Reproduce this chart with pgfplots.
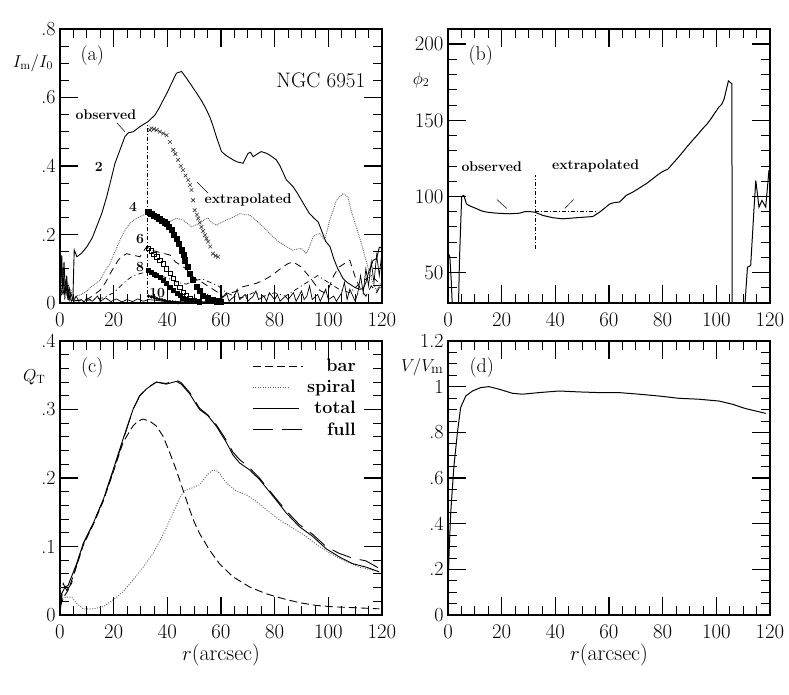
\documentclass[border=0pt]{standalone}
\usepackage{pgfplots}
\pgfplotsset{compat=1.18}
\newcommand{\tfont}{\fontsize{20}{24}\selectfont}
\newcommand{\lfont}{\fontsize{17}{20}\selectfont}
\newcommand{\afont}{\fontsize{14}{16}\selectfont\bfseries}
\pgfplotsset{
  leglen/.style={legend image code/.code={\draw[##1] (0pt,0pt) -- (#1,0pt);}},
  panel/.style={
    scale only axis, width=322pt, height=274pt,
    xmin=0, xmax=120, xtick={0,20,...,120}, minor x tick num=3,
    tick align=inside, major tick length=18pt, minor tick length=9pt,
    axis line style={line width=1.5pt},
    major tick style={line width=1.5pt, black},
    minor tick style={line width=0.8pt, black},
    tick label style={font=\tfont},
    xticklabel style={yshift=-7pt},
    yticklabel style={xshift=-1pt},
    clip=true,
  },
}
\begin{document}
\begin{tikzpicture}[x=1pt,y=1pt]
%---------------- (a)
\begin{axis}[panel, at={(60pt,392pt)}, anchor=south west,
  ymin=0, ymax=0.8, ytick={0,0.2,0.4,0.6,0.8}, yticklabels={0,.2,.4,.6,.8}, minor y tick num=3,
  ylabel={$I_{\rm m}/I_0$},
  every axis y label/.style={at={(axis description cs:-0.084,0.876)},anchor=center,font=\lfont}]
% m=2 observed
\addplot[black, line width=0.9pt] coordinates {(0,0.15)(0.5,0.13)(1,0.05)(1.5,0.12)(2,0.03)(2.5,0.08)(3,0.01)(3.5,0.04)(4.2,0.005)(4.8,0.01)(5.3,0.155)(6.3,0.135)(8,0.145)(10,0.164)(12,0.19)(13.6,0.222)(15.5,0.26)(17.4,0.31)(19,0.36)(20.5,0.408)(22.5,0.45)(24.2,0.486)(25.5,0.497)(27.3,0.5)(29.8,0.515)(32.9,0.53)(35.4,0.549)(37,0.57)(38.5,0.593)(40,0.615)(41.6,0.642)(43.4,0.671)(45.3,0.676)(47.1,0.657)(49,0.635)(50.9,0.613)(52.8,0.59)(54.6,0.564)(56,0.54)(57.1,0.515)(58.5,0.48)(60.2,0.442)(62,0.43)(64.5,0.418)(66,0.412)(68.2,0.408)(70.1,0.437)(71,0.44)(72,0.427)(73.5,0.435)(75,0.442)(77,0.437)(78.5,0.43)(80.6,0.418)(82,0.4)(84.4,0.359)(86.8,0.34)(88.5,0.32)(90,0.3)(91.5,0.28)(93,0.261)(95,0.245)(96.2,0.237)(97.4,0.213)(99,0.18)(100.6,0.165)(102,0.13)(103.5,0.1)(104.4,0.088)(105.5,0.071)(107,0.06)(108,0.055)(110,0.045)(111.7,0.04)(113,0.042)(114,0.06)(115,0.09)(116,0.11)(116.7,0.125)(118,0.13)(119,0.163)(120,0.16)};
% m=4 observed
\addplot[black!60, line width=0.9pt, densely dotted] coordinates {(0,0.06)(0.5,0.02)(1,0.1)(1.5,0.03)(2,0.07)(3,0.02)(4,0.04)(5,0.01)(6,0.02)(8,0.025)(10,0.035)(12,0.05)(14.9,0.066)(16.5,0.09)(18.6,0.115)(20.5,0.15)(22.3,0.183)(24,0.21)(26,0.232)(28,0.245)(29.8,0.252)(32.3,0.261)(34,0.252)(36,0.242)(38,0.238)(39.7,0.232)(41.5,0.24)(43.4,0.247)(45.9,0.242)(47.5,0.232)(49,0.222)(50.5,0.228)(52.1,0.232)(54,0.245)(55.2,0.247)(56.5,0.235)(58.3,0.227)(60,0.235)(62,0.242)(64.5,0.25)(67,0.261)(69,0.258)(70.7,0.257)(72.5,0.245)(74.4,0.232)(77,0.212)(79.4,0.193)(82,0.176)(84.4,0.164)(86.8,0.154)(88.5,0.158)(90,0.159)(91.8,0.144)(93,0.165)(94.3,0.193)(95.5,0.2)(96.8,0.203)(98.6,0.183)(99.5,0.21)(100.5,0.242)(101.8,0.27)(103,0.3)(104.2,0.31)(105.5,0.32)(107.3,0.31)(108.5,0.27)(110.4,0.222)(111.7,0.19)(113,0.154)(114.2,0.12)(115.4,0.086)(116.5,0.06)(118,0.037)(119,0.05)(120,0.04)};
% m=6 observed
\addplot[black, line width=0.8pt, dash pattern=on 7pt off 5pt] coordinates {(0,0.05)(1,0.02)(2,0.06)(3,0.01)(5,0.005)(8,0.01)(10,0.01)(12,0.02)(14.9,0.037)(17,0.06)(19,0.09)(21.7,0.125)(23,0.135)(24.8,0.144)(27,0.14)(29.8,0.135)(31,0.15)(32.3,0.164)(34,0.155)(36,0.15)(38.5,0.145)(41,0.14)(43,0.12)(45,0.11)(47,0.1)(49,0.08)(51,0.068)(53,0.06)(55,0.05)(57,0.04)(59,0.03)(60.8,0.018)(62,0.025)(64,0.03)(66,0.035)(68,0.047)(70.5,0.052)(73,0.057)(75.5,0.065)(78,0.076)(80.5,0.09)(83,0.105)(85,0.115)(86.8,0.12)(88.5,0.112)(90,0.105)(91.5,0.09)(93,0.076)(95,0.055)(96.8,0.037)(98.5,0.03)(100,0.04)(102,0.08)(104,0.105)(106,0.115)(108,0.125)(109,0.1)(110,0.076)(112,0.04)(114,0.02)(116,0.05)(118,0.03)(120,0.06)};
% m=8 observed
\addplot[black, line width=0.7pt, dash pattern=on 5pt off 3pt on 1pt off 3pt] coordinates {(0,0.02)(2,0.04)(4,0.01)(8,0.005)(12,0.01)(16,0.015)(20,0.03)(22,0.045)(24.8,0.066)(27,0.078)(29.8,0.086)(32.3,0.09)(35,0.085)(38,0.078)(41,0.07)(44,0.06)(47,0.055)(50,0.065)(53,0.07)(56,0.06)(59,0.05)(62,0.03)(65,0.02)(68,0.015)(72,0.03)(76,0.02)(80,0.03)(84,0.02)(88,0.04)(92,0.06)(96,0.08)(100,0.06)(104,0.04)(108,0.03)(112,0.06)(116,0.08)(120,0.05)};
% m=10 observed
\addplot[black, line width=0.7pt] coordinates {(0,0.1)(0.3,0.02)(0.7,0.14)(1,0.03)(1.4,0.08)(1.8,0.01)(2.2,0.06)(2.6,0.02)(3,0.05)(3.5,0.01)(4,0.03)(5,0.005)(6,0.02)(7,0.005)(8,0.01)(9,0.003)(10,0.015)(12,0.005)(14,0.02)(15,0.005)(17,0.015)(19,0.004)(21,0.012)(23,0.003)(25,0.01)(27,0.004)(29,0.012)(31,0.005)(33,0.01)(40,0.004)(50,0.003)(58,0.005)(60,0.01)(62,0.03)(63,0.005)(65,0.02)(66,0.04)(67,0.01)(69,0.025)(70,0.005)(72,0.02)(73,0.035)(74,0.01)(76,0.02)(77,0.005)(78,0.03)(80,0.01)(81,0.025)(82,0.005)(84,0.02)(85,0.01)(87,0.03)(88,0.005)(90,0.035)(91,0.01)(92,0.02)(93,0.05)(94,0.01)(96,0.025)(97,0.005)(99,0.04)(100,0.01)(102,0.02)(103,0.005)(105,0.03)(106,0.06)(107,0.01)(108,0.04)(110,0.005)(111,0.03)(112,0.08)(113,0.03)(114,0.1)(115,0.05)(116,0.12)(117,0.06)(118,0.14)(119,0.08)(120,0.15)};
% extrapolated
\addplot[only marks, mark=x, mark size=2.6pt, black!80, line width=0.6pt] coordinates {(33.5,0.505)(34.1,0.51)(35,0.508)(36,0.505)(37.2,0.5)(38.5,0.495)(39.7,0.49)(41,0.47)(42.2,0.447)(43,0.435)(44,0.418)(45,0.4)(45.9,0.388)(46.8,0.372)(47.8,0.359)(48.5,0.345)(49,0.33)(49.6,0.3)(50.2,0.271)(51,0.258)(51.5,0.247)(52.1,0.235)(52.7,0.222)(53.3,0.21)(54,0.198)(54.6,0.188)(55.2,0.179)(56,0.165)(57,0.144)(58,0.138)(58.9,0.135)};
\addplot[only marks, mark=square*, mark size=2.6pt, black] coordinates {(32.9,0.266)(34,0.26)(35,0.256)(36,0.252)(37,0.246)(38,0.24)(39,0.236)(39.7,0.232)(40.6,0.222)(41.6,0.213)(42.5,0.2)(43.4,0.188)(44.3,0.172)(45.3,0.154)(46,0.14)(46.5,0.125)(47.5,0.105)(48.4,0.086)(49.5,0.068)(50.9,0.047)(52,0.035)(53.3,0.022)(55,0.014)(57,0.008)(58.5,0.005)(60,0.003)};
\addplot[only marks, mark=square, mark size=2.2pt, black, line width=0.6pt] coordinates {(33,0.16)(34,0.152)(35,0.143)(36,0.135)(37.2,0.125)(38.5,0.115)(39.7,0.1)(41,0.086)(42.2,0.072)(43.4,0.057)(44.6,0.045)(45.9,0.032)(47,0.022)(48.4,0.013)(50,0.007)(52,0.003)};
\addplot[only marks, mark=square*, mark size=2pt, black] coordinates {(33,0.096)(34,0.09)(35,0.085)(36,0.08)(37.2,0.076)(38.4,0.066)(39.5,0.058)(41,0.047)(42.3,0.037)(43.5,0.028)(44.7,0.022)(46,0.015)(47.2,0.01)(48.4,0.008)(50,0.004)(52,0.002)};
\addplot[only marks, mark=*, mark size=1.5pt, black] coordinates {(33,0.02)(34,0.018)(35,0.016)(36,0.013)(37,0.011)(38,0.009)(39,0.007)(40,0.005)(41,0.004)(42,0.003)(43,0.002)(44,0.001)};
\addplot[black, line width=0.8pt, dash pattern=on 4pt off 2pt on 1pt off 2pt] coordinates {(32.5,0)(32.5,0.52)};
\node[font=\tfont] at (rel axis cs:0.1,0.905) {(a)};
\node[font=\fontsize{21}{24}\selectfont] at (rel axis cs:0.81,0.814) {NGC 6951};
\node[font=\afont] at (axis cs:17.1,0.549) {observed};
\draw[black, line width=0.5pt] (axis cs:21.2,0.526) -- (axis cs:24.2,0.5);
\node[font=\afont] at (axis cs:70.1,0.301) {extrapolated};
\draw[black, line width=0.5pt] (axis cs:51.1,0.353) -- (axis cs:55.2,0.321);
\node[font=\afont] at (axis cs:14.5,0.397) {2};
\node[font=\afont] at (axis cs:27.2,0.28) {4};
\node[font=\afont] at (axis cs:29.8,0.187) {6};
\node[font=\afont] at (axis cs:29.8,0.105) {8};
\node[font=\afont] at (axis cs:36.2,0.029) {10};
\end{axis}
%---------------- (b)
\begin{axis}[panel, at={(448pt,392pt)}, anchor=south west,
  ymin=30, ymax=210, ytick={50,100,150,200}, minor ytick={30,40,...,210},
  ylabel={$\phi_2$},
  every axis y label/.style={at={(axis description cs:-0.084,0.814)},anchor=center,font=\lfont}]
\addplot[black, line width=1pt] coordinates {(0.3,62)(0.7,60)(1.2,45)(1.8,20)};
\addplot[black, line width=1pt] coordinates {(3.8,20)(4.3,60)(5.1,100)(5.9,100.7)(6.9,95)(8.5,93.5)(10.6,92)(12.5,90.5)(14.4,89.7)(18,89)(23,88.6)(26.7,89)(28.6,90)(30.5,90)(32.3,89.7)(35.4,87.5)(39.1,86)(42.8,85.3)(47.8,86)(54,86.8)(56.5,89.7)(58.5,92.5)(60.2,95)(62,96)(63.9,96.3)(66.4,100.7)(69,103)(71.3,105.5)(74,108.5)(76.3,111.6)(78,114)(80,116.4)(82,118)(83.7,121.5)(85.5,125)(87.4,129)(89,132.5)(91.1,136.8)(93,140.5)(94.9,144.5)(96.5,147.5)(98,151)(99.5,155)(101,158.8)(102,160.5)(102.9,164)(103.7,170)(104.5,175.9)(105.8,174)(105.9,20)};
\addplot[black, line width=1pt] coordinates {(110.3,20)(111.6,53.5)(112.8,54.6)(114,90.8)(114.7,110.5)(115.9,93)(117,97.4)(118.4,93)(119.6,117)(120,117)};
\addplot[black, line width=0.7pt, dash pattern=on 4pt off 2pt on 1pt off 2pt] coordinates {(32.5,65.6)(32.5,113.8)};
\addplot[black, line width=0.7pt, dash pattern=on 4pt off 2pt on 1pt off 2pt] coordinates {(32.5,90)(55,90)};
\node[font=\tfont] at (rel axis cs:0.102,0.905) {(b)};
\node[font=\afont] at (axis cs:16.3,119.7) {observed};
\node[font=\afont] at (axis cs:55,119.7) {extrapolated};
\draw[black, line width=0.5pt] (axis cs:18.2,98) -- (axis cs:21.9,92.1);
\draw[black, line width=0.5pt] (axis cs:46.8,98) -- (axis cs:43.5,92.1);
\end{axis}
%---------------- (c)
\begin{axis}[panel, at={(60pt,80pt)}, anchor=south west,
  ymin=0, ymax=0.4, ytick={0,0.1,0.2,0.3,0.4}, yticklabels={0,.1,.2,.3,.4}, minor y tick num=4,
  xlabel={$r$(arcsec)},
  every axis x label/.style={at={(axis description cs:0.5,-0.146)},anchor=center,font=\fontsize{22}{26}\selectfont},
  ylabel={$Q_{\rm T}$},
  every axis y label/.style={at={(axis description cs:-0.08,0.868)},anchor=center,font=\lfont},
  legend style={draw=none, fill=none, at={(rel axis cs:0.935,0.948)}, anchor=north east,
    font=\fontsize{18}{20}\selectfont\bfseries, row sep=3pt},
  legend cell align=right]
\addplot[black, line width=0.9pt, dash pattern=on 8pt off 4pt, leglen=50pt] coordinates {(0,0.012)(1,0.022)(2,0.03)(3,0.036)(4.3,0.05)(6.2,0.072)(8.7,0.102)(12.4,0.132)(16.1,0.166)(19.8,0.208)(23.5,0.252)(27.2,0.276)(29,0.283)(31,0.286)(33.4,0.283)(35.9,0.276)(38.4,0.261)(40.9,0.237)(43.3,0.212)(45.8,0.183)(48.3,0.154)(50,0.136)(52,0.119)(55.7,0.095)(59.4,0.075)(64.4,0.056)(70.6,0.041)(76.8,0.031)(83,0.024)(89.2,0.018)(95.4,0.014)(101.6,0.012)(107.8,0.011)(119,0.009)};
\addlegendentry{bar}
\addplot[black!60, line width=0.9pt, dash pattern=on 1pt off 1.5pt, leglen=36pt] coordinates {(0,0.045)(0.6,0.024)(2.5,0.026)(4.3,0.026)(6.2,0.017)(8.7,0.009)(12.4,0.009)(16.1,0.012)(19.8,0.022)(23.5,0.034)(27.2,0.051)(31,0.07)(34.7,0.09)(38.4,0.117)(42.1,0.149)(44.6,0.171)(46.4,0.181)(49.5,0.186)(52,0.19)(54.5,0.203)(57,0.212)(58.8,0.21)(62,0.193)(65.6,0.181)(69.3,0.176)(73,0.166)(76.8,0.154)(81.7,0.139)(86.7,0.127)(91.6,0.115)(96.6,0.1)(101.6,0.088)(106.5,0.078)(111.5,0.07)(119,0.063)};
\addlegendentry{spiral}
\addplot[black, line width=0.9pt, leglen=46pt] coordinates {(0,0.007)(0.6,0.031)(1.9,0.041)(3,0.043)(4.3,0.056)(6.2,0.075)(8.7,0.105)(12.4,0.134)(16.1,0.168)(19.8,0.212)(23.5,0.257)(27.2,0.3)(29.7,0.32)(32.2,0.33)(35.9,0.34)(39.6,0.337)(43.3,0.341)(45.2,0.337)(48.3,0.323)(52,0.3)(55.1,0.291)(58.2,0.276)(62,0.252)(64.4,0.234)(66.9,0.222)(70.6,0.212)(74.3,0.198)(76.8,0.186)(80.5,0.168)(84.3,0.149)(89.2,0.129)(94.1,0.115)(99.1,0.097)(104,0.085)(109,0.075)(114,0.07)(119,0.063)};
\addlegendentry{total}
\addplot[black, line width=0.9pt, dash pattern=on 20pt off 9pt, leglen=52pt] coordinates {(0,0.002)(1.2,0.046)(2.5,0.036)(4.3,0.046)(6.2,0.073)(8.7,0.104)(12.4,0.134)(16.1,0.168)(19.8,0.21)(23.5,0.255)(27.2,0.3)(29.7,0.32)(32.2,0.331)(35.9,0.34)(39.6,0.338)(43.3,0.343)(45.2,0.339)(48.3,0.325)(52,0.302)(55.1,0.292)(58.2,0.278)(62,0.255)(64.4,0.238)(66.9,0.227)(70.6,0.215)(74.3,0.2)(76.8,0.188)(80.5,0.17)(84.3,0.152)(89.2,0.132)(94.1,0.118)(99.1,0.1)(104,0.09)(109,0.083)(114,0.079)(119,0.068)};
\addlegendentry{full}
\node[font=\tfont] at (rel axis cs:0.1,0.905) {(c)};
\end{axis}
%---------------- (d)
\begin{axis}[panel, at={(448pt,80pt)}, anchor=south west,
  ymin=0, ymax=1.2, ytick={0,0.2,0.4,0.6,0.8,1,1.2}, yticklabels={0,.2,.4,.6,.8,1,1.2}, minor y tick num=3,
  xlabel={$r$(arcsec)},
  every axis x label/.style={at={(axis description cs:0.5,-0.146)},anchor=center,font=\fontsize{22}{26}\selectfont},
  ylabel={$V/V_{\rm m}$},
  every axis y label/.style={at={(axis description cs:-0.08,0.905)},anchor=center,font=\fontsize{19}{22}\selectfont}]
\addplot[black, line width=1pt] coordinates {(0,0.123)(0.4,0.27)(1,0.446)(2.2,0.651)(3.5,0.798)(4.7,0.908)(6.6,0.959)(9.1,0.981)(12.2,0.996)(15.3,1.0)(19,0.989)(24,0.971)(27.7,0.967)(33.9,0.974)(41.4,0.981)(48.8,0.977)(56.3,0.974)(63.7,0.974)(71.2,0.967)(78.6,0.959)(86.1,0.949)(93.5,0.945)(101,0.937)(106,0.923)(110.9,0.904)(118.4,0.883)};
\node[font=\tfont] at (rel axis cs:0.105,0.905) {(d)};
\end{axis}
\pgfresetboundingbox
\useasboundingbox (0,0) rectangle (789,695);
\end{tikzpicture}
\end{document}
